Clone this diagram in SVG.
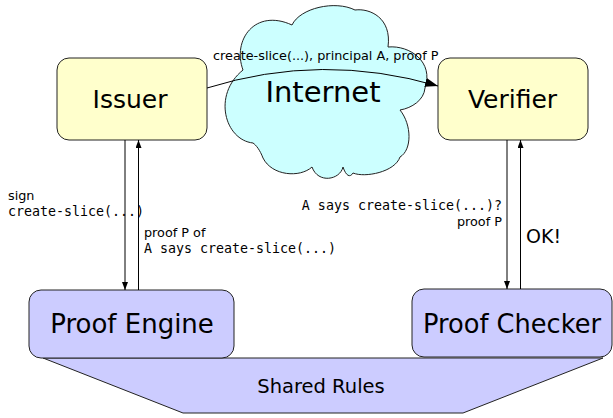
<svg xmlns="http://www.w3.org/2000/svg" width="613" height="418" viewBox="0 0 613 418">
<style>
.box{stroke:#222;stroke-width:1}
.yel{fill:#ffffcc}
.pur{fill:#ccccff}
.big{font-family:"DejaVu Sans",sans-serif;text-anchor:middle;fill:#000}
.sm{font-family:"DejaVu Sans",sans-serif;font-size:12.8px;fill:#000}
.mono{font-family:"DejaVu Sans Mono",monospace;font-size:13.3px;fill:#000}
.ln{stroke:#000;stroke-width:1;fill:none}
</style>
<defs>
<marker id="ah" markerWidth="8" markerHeight="6" refX="8" refY="3" orient="auto" markerUnits="userSpaceOnUse">
<path d="M0,0 L8,3 L0,6 Z" fill="#000"/>
</marker>
<marker id="ahb" markerWidth="13" markerHeight="9" refX="13" refY="4.5" orient="auto" markerUnits="userSpaceOnUse">
<path d="M0,0 L13,4.5 L0,9 Z" fill="#000"/>
</marker>
</defs>
<g id="shared-rules">
<polygon class="box pur" points="43,358 603,358 463,413 183,413"/>
<text class="big" x="321" y="393" font-size="19.5">Shared Rules</text>
</g>
<g id="internet">
<path class="box" fill="#ccffff" d="M243,70 C232,40 255,8 292,25 C300,8 335,0 355,10 C370,8 392,18 388,47 C410,45 434,62 425,88 C424,100 412,108 400,110 C412,125 412,150 400,157 C395,172 365,178 353,173 C350,178 346,176 343,167 C340,180 318,184 312,167 C300,178 272,176 263,158 C260,150 256,145 253,143 C225,140 212,95 243,70 Z"/>
<text class="big" x="323" y="102" font-size="29">Internet</text>
</g>
<g id="issuer">
<rect class="box yel" x="57" y="58" width="150" height="82" rx="12"/>
<text class="big" x="130" y="108" font-size="25">Issuer</text>
</g>
<g id="verifier">
<rect class="box yel" x="438" y="58" width="150" height="82" rx="12"/>
<text class="big" x="512.5" y="108" font-size="25">Verifier</text>
</g>
<g id="proof-engine">
<rect class="box pur" x="29" y="290" width="205" height="68" rx="12"/>
<text class="big" x="132" y="333" font-size="26">Proof Engine</text>
</g>
<g id="proof-checker">
<rect class="box pur" x="412" y="289" width="200" height="68" rx="12"/>
<text class="big" x="512" y="333" font-size="25.7">Proof Checker</text>
</g>
<g id="connectors">
<path class="ln" d="M207,88 Q322,52 438,86" marker-end="url(#ahb)"/>
<line class="ln" x1="125" y1="140" x2="125" y2="290" marker-end="url(#ah)"/>
<line class="ln" x1="138.5" y1="290" x2="138.5" y2="140" marker-end="url(#ah)"/>
<line class="ln" x1="507" y1="140" x2="507" y2="289" marker-end="url(#ah)"/>
<line class="ln" x1="520.5" y1="289" x2="520.5" y2="140" marker-end="url(#ah)"/>
</g>
<g id="labels">
<text class="sm" x="213" y="60">create-slice(...), principal A, proof P</text>
<text class="sm" x="8" y="200">sign</text>
<text class="mono" x="8" y="216">create-slice(...)</text>
<text class="sm" x="144" y="237">proof P of</text>
<text class="mono" x="144" y="253">A says create-slice(...)</text>
<text class="mono" x="502" y="210" text-anchor="end">A says create-slice(...)?</text>
<text class="sm" x="502" y="226" text-anchor="end">proof P</text>
<text class="big" x="526" y="243" font-size="19" text-anchor="start" style="text-anchor:start">OK!</text>
</g>
</svg>
